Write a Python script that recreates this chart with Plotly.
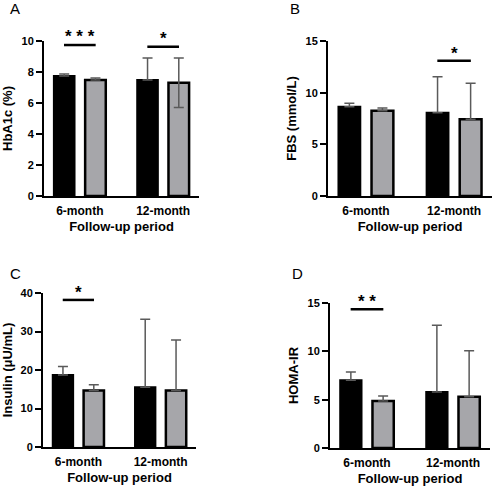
import plotly.graph_objects as go

# Follow-up data (mean and SD), two groups per period
periods = ['6-month', '12-month']

hba1c_black = [7.75, 7.48]
hba1c_black_sd = [0.12, 1.43]
hba1c_gray = [7.48, 7.31]
hba1c_gray_sd = [0.14, 1.6]
hba1c_gray_sd_low = [0, 1.6]   # lower whisker only drawn for 12-month

fbs_black = [8.64, 8.06]
fbs_black_sd = [0.33, 3.49]
fbs_gray = [8.26, 7.42]
fbs_gray_sd = [0.26, 3.48]
fbs_gray_sd_low = [0, 0]

insulin_black = [18.7, 15.5]
insulin_black_sd = [2.2, 17.7]
insulin_gray = [14.7, 14.7]
insulin_gray_sd = [1.5, 13.1]
insulin_gray_sd_low = [0, 0]

homa_black = [7.0, 5.79]
homa_black_sd = [0.86, 6.9]
homa_gray = [4.86, 5.31]
homa_gray_sd = [0.52, 4.76]
homa_gray_sd_low = [0, 0]

panels = [
    # letter, y title, black, black sd, gray, gray sd (up, low), y max, dtick, significance marks
    ('A', 'HbA1c (%)', hba1c_black, hba1c_black_sd, hba1c_gray, hba1c_gray_sd, hba1c_gray_sd_low, 10, 2,
     [('6-month', '* * *', 9.74, 10.55), ('12-month', '*', 9.63, 10.45)]),
    ('B', 'FBS (mmol/L)', fbs_black, fbs_black_sd, fbs_gray, fbs_gray_sd, fbs_gray_sd_low, 15, 5,
     [('12-month', '*', 13.1, 14.2)]),
    ('C', 'Insulin (μU/mL)', insulin_black, insulin_black_sd, insulin_gray, insulin_gray_sd, insulin_gray_sd_low, 40, 10,
     [('6-month', '*', 38.2, 41.1)]),
    ('D', 'HOMA-IR', homa_black, homa_black_sd, homa_gray, homa_gray_sd, homa_gray_sd_low, 15, 5,
     [('6-month', '* *', 14.35, 15.6)]),
]

W, H = 500, 487
# pixel boxes of each plot area: x0, x1, ytop, ybottom
boxes = [(44, 199, 41, 196), (328, 492, 41, 196), (43, 196, 293, 447), (330, 490, 303, 448)]
letter_pos = [(8, 8), (288, 8), (8, 273), (290, 273)]

GRAY = '#a6a6aa'
ERR = '#5a5a5a'
FONT = 'Liberation Sans, Arial, sans-serif'

fig = go.Figure()
shapes = []
annotations = []

for i, (letter, ytitle, bk, bksd, gr, grsd, grlow, ymax, dtick, sigs) in enumerate(panels):
    n = i + 1
    xa = 'x' if n == 1 else 'x%d' % n
    ya = 'y' if n == 1 else 'y%d' % n
    fig.add_trace(go.Bar(
        x=periods, y=bk, xaxis=xa, yaxis=ya, showlegend=False, hoverinfo='skip',
        marker=dict(color='black', line=dict(color='black', width=2)),
        error_y=dict(type='data', array=bksd, symmetric=False, arrayminus=[0, 0],
                     color=ERR, thickness=1.5, width=5),
    ))
    fig.add_trace(go.Bar(
        x=periods, y=gr, xaxis=xa, yaxis=ya, showlegend=False, hoverinfo='skip',
        marker=dict(color=GRAY, line=dict(color='black', width=2.5)),
        error_y=dict(type='data', array=grsd, symmetric=False, arrayminus=grlow,
                     color=ERR, thickness=1.5, width=5),
    ))

    x0, x1, yt, yb = boxes[i]
    d0, d1 = 1 - yb / H, 1 - yt / H
    xkey = 'xaxis' if n == 1 else 'xaxis%d' % n
    ykey = 'yaxis' if n == 1 else 'yaxis%d' % n
    fig.layout[xkey] = dict(
        domain=[x0 / W, x1 / W], anchor=ya, type='category', range=[-0.43, 1.43],
        showline=True, linecolor='black', linewidth=2, ticks='', showgrid=False,
        ticklabelstandoff=3,
        tickfont=dict(family=FONT, size=12, color='black', weight='bold'),
        title=dict(text='Follow-up period', standoff=4,
                   font=dict(family=FONT, size=13, color='black', weight='bold')),
        fixedrange=True, automargin=False,
    )
    fig.layout[ykey] = dict(
        domain=[d0, d1], anchor=xa, range=[0, ymax], dtick=dtick,
        showline=True, linecolor='black', linewidth=2, ticks='outside', ticklen=6,
        tickwidth=2, tickcolor='black', showgrid=False, zeroline=False,
        tickfont=dict(family=FONT, size=11, color='black', weight='bold'),
        title=dict(text=ytitle, standoff=6,
                   font=dict(family=FONT, size=13, color='black', weight='bold')),
        fixedrange=True, automargin=False,
    )

    lx, ly = letter_pos[i]
    annotations.append(dict(
        text=letter, xref='paper', yref='paper', x=lx / W, y=1 - ly / H,
        xanchor='left', yanchor='middle', showarrow=False,
        font=dict(family=FONT, size=15, color='black'),
    ))

    for period, stars, line_y, star_y in sigs:
        idx = periods.index(period)
        shapes.append(dict(
            type='line', xref=xa, yref=ya, x0=idx - 0.19, x1=idx + 0.19,
            y0=line_y, y1=line_y, line=dict(color='black', width=2.5),
        ))
        # stars sit above the axis top, so place them in paper units
        annotations.append(dict(
            text=stars, xref=xa, yref='paper', x=idx, y=d0 + star_y / ymax * (d1 - d0),
            showarrow=False, xanchor='center', yanchor='middle', yshift=-4,
            font=dict(family=FONT, size=17, color='black', weight='bold'),
        ))

fig.update_layout(
    width=W, height=H, margin=dict(l=0, r=0, t=0, b=0, autoexpand=False),
    paper_bgcolor='white', plot_bgcolor='white',
    barmode='group', bargap=0.25, bargroupgap=0.34,
    shapes=shapes, annotations=annotations,
)

# drop the page's default body margin so the figure fills the window
fig.write_html('out.html', config={'displayModeBar': False},
               post_script="document.body.style.margin='0';")
